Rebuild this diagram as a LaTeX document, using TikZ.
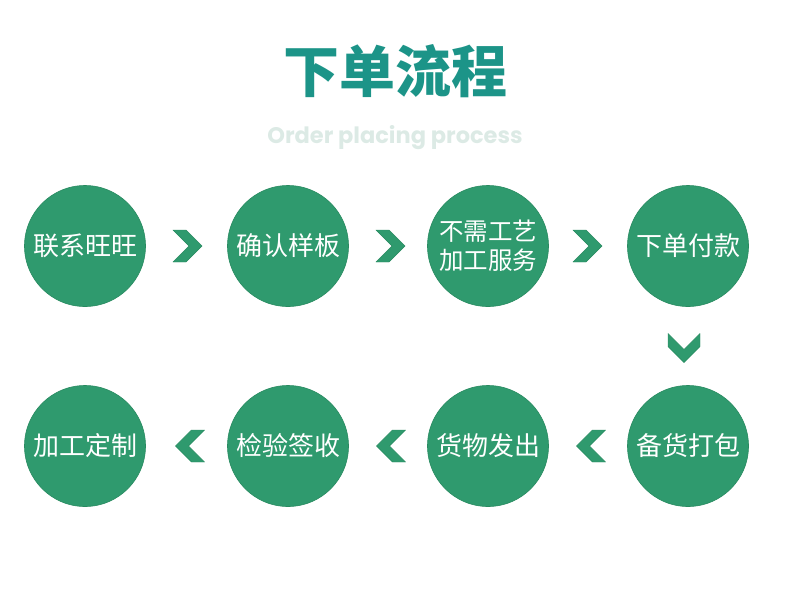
\documentclass[tikz,border=0pt]{standalone}
\usepackage{fontspec}
\setmainfont{Noto Sans CJK SC}
\newfontfamily\popfont{Poppins}
\definecolor{circfill}{HTML}{2F9A6E}
\definecolor{circedge}{HTML}{288A60}
\definecolor{titlec}{HTML}{1C9488}
\definecolor{subc}{HTML}{DCEAE5}
\tikzset{
  x=1pt, y=-1pt,
  stepcirc/.style={circle, fill=circfill, draw=circedge, line width=0.6pt, minimum size=121pt, inner sep=0pt, text=white, font=\fontsize{26}{31}\selectfont, align=center},
  chev/.pic={\fill[circfill, draw=circedge, line width=0.4pt] (-14.5,-16) -- (-1.5,-16) -- (14.5,0) -- (-1.5,16) -- (-14.5,16) -- (1.5,0) -- cycle;}
}
\begin{document}
\begin{tikzpicture}
\useasboundingbox (0,0) rectangle (790,598);
\node[text=titlec, font=\fontsize{56}{62}\selectfont\bfseries] (title) at (395,71) {下单流程};
\node[text=subc, font=\popfont\bfseries\fontsize{22.5}{26}\selectfont] (sub) at (395,138) {Order placing process};
\node[stepcirc] (c1) at (85,246) {联系旺旺};
\node[stepcirc] (c2) at (288,246) {确认样板};
\node[stepcirc] (c3) at (488,246) {\fontsize{24.5}{29}\selectfont 不需工艺\\[-2pt]\fontsize{24.5}{29}\selectfont 加工服务};
\node[stepcirc] (c4) at (688,246) {下单付款};
\node[stepcirc] (c5) at (688,446) {备货打包};
\node[stepcirc] (c6) at (488,446) {货物发出};
\node[stepcirc] (c7) at (288,446) {检验签收};
\node[stepcirc] (c8) at (85,446) {加工定制};
\pic at (187.5,246) {chev};
\pic at (390.5,246) {chev};
\pic at (587.5,246) {chev};
\pic[rotate=-90] at (684,348) {chev};
\pic[rotate=180] at (190,446) {chev};
\pic[rotate=180] at (391,446) {chev};
\pic[rotate=180] at (591,446) {chev};
\end{tikzpicture}
\end{document}
